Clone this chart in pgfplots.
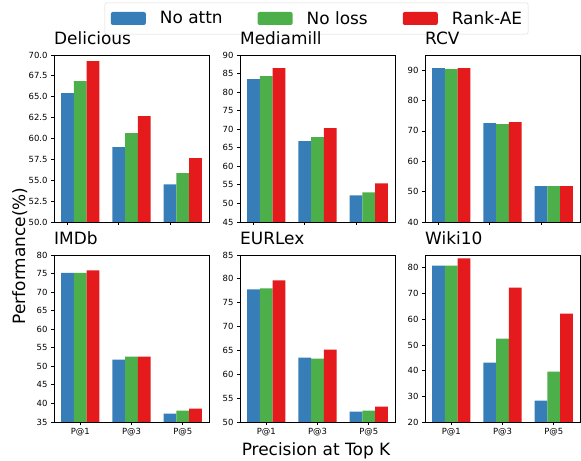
\documentclass[border=0pt]{standalone}
\usepackage{pgfplots}
\pgfplotsset{compat=1.18}
\usepackage{pgfplotstable}
\usepackage{fontspec}
\setmainfont{DejaVu Sans}
\definecolor{cblue}{HTML}{377EB8}
\definecolor{cgreen}{HTML}{4DAF4A}
\definecolor{cred}{HTML}{E41A1C}

\pgfplotstableread{
x a b c
0 65.44 66.88 69.28
1 58.96 60.64 62.68
2 54.52 55.84 57.64
}\delicious
\pgfplotstableread{
x a b c
0 83.52 84.33 86.49
1 66.78 67.86 70.29
2 52.20 53.01 55.44
}\mediamill
\pgfplotstableread{
x a b c
0 90.66 90.33 90.66
1 72.60 72.27 72.93
2 51.78 51.78 51.78
}\rcv
\pgfplotstableread{
x a b c
0 75.20 75.20 75.86
1 51.83 52.64 52.64
2 37.25 38.06 38.60
}\imdb
\pgfplotstableread{
x a b c
0 77.79 78.00 79.67
1 63.51 63.30 65.19
2 52.17 52.38 53.22
}\eurlex
\pgfplotstableread{
x a b c
0 80.91 80.91 83.64
1 43.10 52.47 72.34
2 28.31 39.60 62.20
}\wiki

\pgfplotsset{
  panel/.style={
    scale only axis, width=155bp, height=167bp,
    anchor=south west,
    xmin=-0.5125, xmax=2.5125,
    ybar, bar width=0.25,
    axis line style={black, line width=0.8bp},
    tick align=outside, major tick length=3bp,
    tick style={black, line width=0.8bp},
    xtick pos=bottom, ytick pos=left,
    minor tick num=0,
    tick label style={font=\fontsize{8.5}{10}\selectfont},
    /pgf/number format/assume math mode=true,
    title style={at={(0,1)}, anchor=base west, inner sep=0pt, yshift=4.5bp, font=\fontsize{17}{20}\selectfont},
  },
  toprow/.style={xtick={-0.25,0.75,1.75}, xticklabels={}},
  botrow/.style={xtick={0,1,2}, xticklabels={P@1,P@3,P@5}},
  pa/.style={bar shift=-0.25, fill=cblue, draw=none},
  pb/.style={bar shift=0, fill=cgreen, draw=none},
  pc/.style={bar shift=0.25, fill=cred, draw=none},
}

\begin{document}
\begin{tikzpicture}
\useasboundingbox (0,0) rectangle (581bp,461bp);

% Delicious
\begin{axis}[panel, toprow, at={(54bp,239bp)},
  title={Delicious}, ymin=50, ymax=70, ytick={50,52.5,...,70},
  yticklabel style={/pgf/number format/.cd, fixed, fixed zerofill, precision=1},
  legend columns=3,
  legend image code/.code={\fill[#1] (0bp,-6.5bp) rectangle (35bp,6.5bp);},
  legend style={at={(1.6935,1.2186)}, anchor=center, draw=black!15, rounded corners=2bp,
    fill=white, font=\fontsize{17}{20}\selectfont, inner xsep=6bp, inner ysep=8.5bp,
    nodes={inner sep=0pt},
    /tikz/every odd column/.append style={column sep=14bp},
    /tikz/every even column/.append style={column sep=35bp}},
  legend cell align=left]
\addplot[pa] table[x=x,y=a]{\delicious};
\addplot[pb] table[x=x,y=b]{\delicious};
\addplot[pc] table[x=x,y=c]{\delicious};
\addlegendentry{No attn}
\addlegendentry{No loss}
\addlegendentry{Rank-AE}
\end{axis}

% Mediamill
\begin{axis}[panel, toprow, at={(240bp,239bp)},
  title={Mediamill}, ymin=45, ymax=90, ytick={45,50,...,90}]
\addplot[pa] table[x=x,y=a]{\mediamill};
\addplot[pb] table[x=x,y=b]{\mediamill};
\addplot[pc] table[x=x,y=c]{\mediamill};
\end{axis}

% RCV
\begin{axis}[panel, toprow, at={(425bp,239bp)},
  title={RCV}, ymin=40, ymax=95, ytick={40,50,...,90}]
\addplot[pa] table[x=x,y=a]{\rcv};
\addplot[pb] table[x=x,y=b]{\rcv};
\addplot[pc] table[x=x,y=c]{\rcv};
\end{axis}

% IMDb
\begin{axis}[panel, botrow, at={(54bp,39bp)},
  title={IMDb}, ymin=35, ymax=80, ytick={35,40,...,80}]
\addplot[pa] table[x=x,y=a]{\imdb};
\addplot[pb] table[x=x,y=b]{\imdb};
\addplot[pc] table[x=x,y=c]{\imdb};
\end{axis}

% EURLex
\begin{axis}[panel, botrow, at={(240bp,39bp)},
  title={EURLex}, ymin=50, ymax=85, ytick={50,55,...,85}]
\addplot[pa] table[x=x,y=a]{\eurlex};
\addplot[pb] table[x=x,y=b]{\eurlex};
\addplot[pc] table[x=x,y=c]{\eurlex};
\end{axis}

% Wiki10
\begin{axis}[panel, botrow, at={(425bp,39bp)},
  title={Wiki10}, ymin=20, ymax=85, ytick={20,30,...,80}]
\addplot[pa] table[x=x,y=a]{\wiki};
\addplot[pb] table[x=x,y=b]{\wiki};
\addplot[pc] table[x=x,y=c]{\wiki};
\end{axis}

\node[rotate=90, anchor=base, font=\fontsize{17}{20}\selectfont] at (25bp,205bp) {Performance(\%)};
\node[anchor=base, font=\fontsize{17}{20}\selectfont] at (316bp,6bp) {Precision at Top K};
\end{tikzpicture}
\end{document}
